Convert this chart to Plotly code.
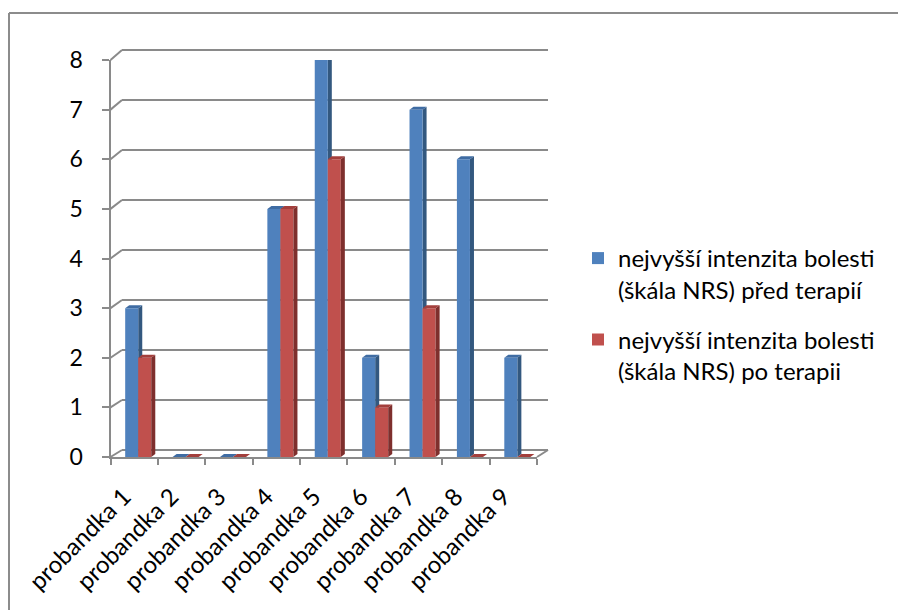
import plotly.graph_objects as go

# Pain intensity (NRS scale) per proband, before and after therapy
categories = ["probandka 1", "probandka 2", "probandka 3", "probandka 4", "probandka 5",
              "probandka 6", "probandka 7", "probandka 8", "probandka 9"]
before_therapy = [3, 0, 0, 5, 8, 2, 7, 6, 2]
after_therapy = [2, 0, 0, 5, 6, 1, 3, 0, 0]
series_names = ["nejvyšší intenzita bolesti<br>(škála NRS) před terapií",
                "nejvyšší intenzita bolesti<br>(škála NRS) po terapii"]
y_ticks = [0, 1, 2, 3, 4, 5, 6, 7, 8]

W, H = 898, 610
GRID = "#8a8a8a"
BLUE, BLUE_SIDE, BLUE_TOP = "#4f81bd", "#33587f", "#3f6ca3"
RED, RED_SIDE, RED_TOP = "#c0504d", "#7e2f2d", "#a33f3c"
FONT = "Lato"


def fx(x):
    return x / W


def fy(y):
    return 1 - y / H


# front plane of the plot (pixels)
FX0, FX1, FY0, FY1 = 110.5, 537, 457, 60
# back wall (pixels)
BX0, BX1, BY0, BPU = 122, 548, 450, 50.0
FPU = (FY0 - FY1) / (y_ticks[-1] - y_ticks[0])

BAR_W = 0.275      # width of one column in category units
SHIFT = 0.085      # columns sit half-way into the depth
DX, DY = 0.085, 0.06  # 3D side depth in data units

fig = go.Figure()
fig.add_bar(x=categories, y=before_therapy, name=series_names[0], legendgroup="pred",
            marker_color=BLUE, marker_line_width=0, width=BAR_W, offset=-BAR_W + SHIFT)
fig.add_bar(x=categories, y=after_therapy, name=series_names[1], legendgroup="po",
            marker_color=RED, marker_line_width=0, width=BAR_W, offset=SHIFT)

shapes = []
line = dict(color=GRID, width=2)

# back wall gridlines and left-wall connectors
for v in y_ticks:
    by = BY0 - BPU * v
    fyv = FY0 - FPU * v
    shapes.append(dict(type="line", xref="paper", yref="paper", layer="below",
                       x0=fx(BX0), x1=fx(BX1), y0=fy(by), y1=fy(by), line=line))
    shapes.append(dict(type="line", xref="paper", yref="paper", layer="below",
                       x0=fx(FX0), x1=fx(BX0), y0=fy(fyv), y1=fy(by), line=line))
# right edge of the floor
shapes.append(dict(type="line", xref="paper", yref="paper", layer="below",
                   x0=fx(FX1), x1=fx(BX1), y0=fy(FY0), y1=fy(BY0), line=line))

# 3D side and top faces of each column
for vals, off, side, top, layer in [
    (before_therapy, -BAR_W + SHIFT, BLUE_SIDE, BLUE_TOP, "below"),
    (after_therapy, SHIFT, RED_SIDE, RED_TOP, "above"),
]:
    for i, v in enumerate(vals):
        left = i + off
        right = left + BAR_W
        side_path = (f"M {right},0 L {right},{v} L {right + DX},{v + DY} "
                     f"L {right + DX},{DY} Z")
        top_path = (f"M {left},{v} L {right},{v} L {right + DX},{v + DY} "
                    f"L {left + DX},{v + DY} Z")
        shapes.append(dict(type="path", xref="x", yref="y", layer=layer, path=side_path,
                           fillcolor=side, line=dict(width=0)))
        shapes.append(dict(type="path", xref="x", yref="y", layer=layer, path=top_path,
                           fillcolor=top, line=dict(width=0)))

# chart area border (top and left)
border = dict(color="#8c8c8c", width=2)
shapes.append(dict(type="line", xref="paper", yref="paper", x0=fx(9), x1=1,
                   y0=fy(13), y1=fy(13), line=border))
shapes.append(dict(type="line", xref="paper", yref="paper", x0=fx(9), x1=fx(9),
                   y0=fy(13), y1=0, line=border))

fig.update_layout(
    width=W, height=H,
    margin=dict(l=0, r=0, t=0, b=0, autoexpand=False),
    paper_bgcolor="white", plot_bgcolor="rgba(0,0,0,0)",
    font=dict(family=FONT, size=22, color="black"),
    barmode="overlay",
    shapes=shapes,
    showlegend=True,
    legend=dict(x=fx(578), y=fy(236), xanchor="left", yanchor="top",
                font=dict(family=FONT, size=24, color="black"),
                traceorder="grouped", tracegroupgap=16, valign="top", itemwidth=30,
                bgcolor="rgba(0,0,0,0)"),
    xaxis=dict(domain=[fx(FX0), fx(FX1)], type="category", categoryorder="array",
               categoryarray=categories, range=[-0.5, len(categories) - 0.5],
               tickson="boundaries", ticks="outside", ticklen=6, tickwidth=2,
               tickcolor=GRID, showline=True, linecolor=GRID, linewidth=2,
               showgrid=False, zeroline=False, tickangle=-45, automargin=False,
               ticklabelshift=-10, ticklabelstandoff=14,
               tickfont=dict(family=FONT, size=24, color="black"), fixedrange=True),
    yaxis=dict(domain=[fy(FY0), fy(FY1)], range=[y_ticks[0], y_ticks[-1]],
               tickvals=y_ticks, ticks="outside", ticklen=7, tickwidth=2,
               tickcolor=GRID, showline=True, linecolor=GRID, linewidth=2,
               showgrid=False, zeroline=False, ticklabelstandoff=14, automargin=False,
               tickfont=dict(family=FONT, size=23, color="black"), fixedrange=True),
)

fig.write_html("out.html")
